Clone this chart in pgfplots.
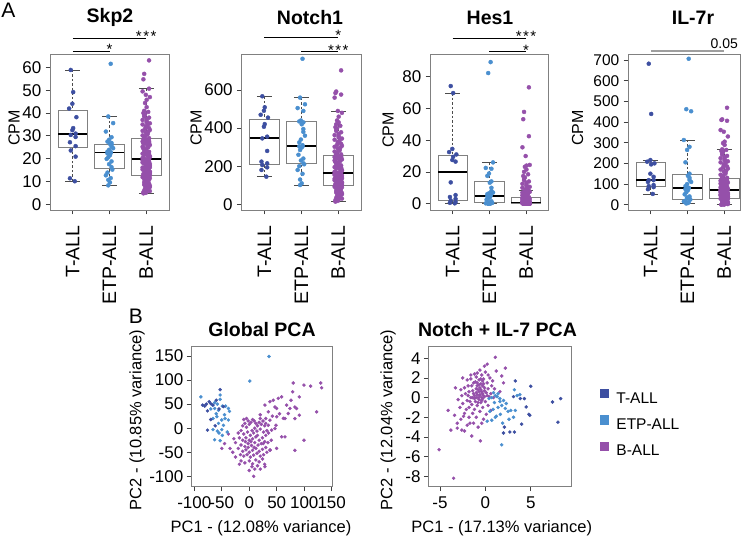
\documentclass[border=0pt]{standalone}
\usepackage{fontspec}
\setmainfont{Liberation Sans}
\usepackage{pgfplots}
\pgfplotsset{compat=1.18}
\usepackage{pgfplotstable}
\usepgfplotslibrary{statistics}
\definecolor{cT}{HTML}{3D4FA1}
\definecolor{cE}{HTML}{4A8FCF}
\definecolor{cB}{HTML}{9550AA}
\definecolor{frame}{HTML}{808080}
\newcommand{\fs}[1]{\fontsize{#1}{#1}\selectfont}

\pgfplotstableread{
d s n h r
1 4.8 14 0 0
4 5.0 18 0 0
1 5.3 22 0 1
5 5.5 26 0 2
9 5.8 30 0 3
2 6.0 34 0 4
6 6.3 38 0 5
5 6.6 41 0 6
3 6.9 44 0 7
5 7.1 47 0 8
8 7.4 50 0 9
9 7.6 53 0 10
7 7.9 56 0 11
9 8.1 58 0 12
3 8.3 60 0 13
2 8.6 62 0.02 14
3 8.8 64 0.04 15
8 9.0 66 0.06 16
4 9.2 68 0.08 17
6 9.5 70 0.1 18
2 9.7 72 0.11 19
6 9.9 74 0.12 20
4 10.1 76 0.13 21
3 10.3 78 0.14 22
3 10.5 80 0.15 23
8 10.7 82 0.16 24
3 10.9 84 0.17 25
2 11.1 86 0.18 26
7 11.3 88 0.19 27
9 11.5 90 0.2 28
5 11.7 91 0.21 28.5
0 11.9 92 0.22 29
2 12.0 94 0.24 29.5
8 12.2 95 0.25 30
8 12.4 97 0.27 30.5
4 12.5 98 0.28 31
1 12.7 100 0.3 32
9 12.9 102 0.32 33
7 13.1 104 0.34 34
1 13.3 106 0.35 35
6 13.5 108 0.37 36
9 13.7 110 0.38 37
3 13.9 112 0.4 38
9 14.1 114 0.41 39
9 14.3 116 0.43 40
3 14.5 118 0.44 41
7 14.7 120 0.46 42
5 14.9 122 0.47 43
1 15.1 124 0.49 44
0 15.3 126 0.5 45
5 15.5 128 0.52 46
8 15.7 130 0.53 47
2 15.9 132 0.55 48
0 16.1 134 0.56 49
9 16.3 136 0.58 50
7 16.5 138 0.59 51
4 16.7 140 0.61 52
9 16.9 142 0.62 53
4 17.1 144 0.64 54
4 17.3 146 0.65 55
5 17.5 148 0.67 56
9 17.7 150 0.68 57
2 17.9 151 0.7 58
3 18.1 153 0.71 59
0 18.3 154 0.73 60
7 18.5 156 0.74 61
8 18.7 157 0.76 62
1 18.9 158 0.77 63
6 19.0 159 0.79 64
4 19.2 160 0.8 65
0 19.3 161 0.82 66
6 19.5 162 0.84 67
2 19.6 163 0.86 67.5
8 19.8 165 0.88 68
6 19.9 166 0.9 69
2 20.1 168 0.95 70.5
0 20.3 171 1.0 72
8 20.5 174 1.05 73.5
9 20.8 177 1.1 75
9 21.0 180 1.15 76.5
8 21.2 183 1.2 78
6 21.5 186 1.25 79.5
2 21.7 189 1.3 81
8 22.0 192 1.4 82.5
0 22.2 195 1.5 84
3 22.5 198 1.6 85.5
4 22.7 201 1.7 87
8 23.0 204 1.8 88.5
2 23.2 207 1.9 90
5 23.5 210 2.0 91.5
3 23.7 213 2.1 93
4 24.0 216 2.2 94.5
2 24.2 219 2.3 96
1 24.5 222 2.4 97.5
1 24.7 225 2.5 99
7 25.0 228 2.6 100.5
0 25.2 230 2.7 102
6 25.5 232 2.8 103.5
7 25.7 234 2.9 105
9 26.0 236 3.0 106.5
8 26.2 238 3.1 108
2 26.5 240 3.2 109.5
1 26.7 242 3.3 111
4 27.0 244 3.4 112.5
8 27.2 246 3.5 114
0 27.5 248 3.55 116
8 27.7 249 3.6 118
6 28.0 251 3.65 120
5 28.2 252 3.7 122
1 28.4 254 3.72 123
3 28.6 255 3.76 124.5
2 28.7 257 3.8 126
8 29.0 262 4.1 130
2 29.4 267 4.5 135
3 29.8 272 4.9 140
0 30.2 277 5.3 145
6 30.6 282 5.7 150
6 31.0 287 6.0 155
4 31.4 292 6.3 160
7 31.8 297 6.6 165
0 32.2 302 7.0 170
9 32.6 307 7.4 175
3 33.0 312 7.8 180
8 33.4 317 8.1 185
4 33.8 322 8.4 190
4 34.2 327 9.0 195
6 34.6 333 9.5 200
0 35.0 339 10.0 205
9 35.5 345 10.6 210
5 36.0 351 11.2 215
5 36.5 357 11.8 220
0 37.0 363 12.5 225
5 37.5 370 13.2 230
8 38.0 378 14.0 236
2 38.5 385 14.8 242
2 39.0 392 15.6 248
3 39.5 398 16.5 254
1 40.0 405 17.4 260
7 40.5 412 18.5 265
2 41.0 420 20.0 268
5 42.6 430 21.5 289
3 44.4 440 23.2 298
5 45.8 460 24.0 305
9 47.0 480 24.4 330
4 48.0 490 30.0 353
0 49.5 560 35.5 361
8 50.7 576 42.5 406
1 54.8 584 53.2 410
2 57.2 592 57.8 413
8 63.1 703 73.3 469
}\tabB

\pgfplotstableread{
d s n h r
7 10.1 145 0.2 52
1 11.4 180 0.5 75
8 20.9 194 1.0 85
2 23.6 206 2.0 90
8 25.5 215 3.0 95
1 27.2 224 4.2 110
8 29.5 280 5.4 119
2 30.4 346 13.4 119
8 31.0 355 26.5 135
4 32.5 407 27.5 150
5 33.4 421 29.5 195
9 38.2 455 31.0 200
0 42.0 470 32.5 208
4 44.1 491 34.5 216
5 49.2 509 69.7 439
2 58.9 567 74.1 682
}\tabT

\pgfplotstableread{
d s n h r
3 8.3 101 0 6
5 9.6 110 0 8
3 10.7 130 0 10
6 11.5 160 0.1 12
0 12.7 180 0.2 15
2 13.9 200 0.3 20
8 15.2 210 0.5 25
7 16.3 215 0.6 30
4 17.6 230 1.0 35
7 18.8 240 1.5 40
1 19.9 260 2.5 50
3 20.6 285 3.5 60
5 21.5 298 4.0 70
2 22.3 304 4.5 75
6 22.5 304 5.0 80
6 22.9 310 5.5 82
2 23.1 325 6.0 90
4 23.9 340 6.5 100
9 24.6 360 7.0 110
7 25.3 380 8.0 120
7 26.1 395 10.0 130
5 26.5 420 13.2 140
7 26.9 430 14.0 150
2 27.5 435 17.5 205
4 28.3 440 19.0 265
7 29.4 490 22.0 280
0 31.9 505 22.5 313
9 35.6 525 26.0 452
3 38.5 560 82.3 462
6 61.6 764 89.2 706
}\tabE

\pgfplotsset{
  rstyle/.style={
    scale only axis, anchor=south west, clip=false,
    axis line style={draw=frame, line width=0.9bp},
    tick align=outside, major tick length=4.5bp,
    tick style={black!75, line width=0.8bp},
    xtick pos=left, ytick pos=left,
    /pgf/number format/assume math mode=true,
    scaled ticks=false,
    tick label style={font=\fs{17bp}, inner sep=0pt},
  },
  topax/.style={rstyle, height=156bp, xmin=-0.62,
    xtick={0,1,2}, xticklabels={T-ALL,ETP-ALL,B-ALL},
    xticklabel style={rotate=90, anchor=east, font=\fs{19.5bp}},
    xticklabel shift=11bp, yticklabel shift=4bp},
  pcaax/.style={rstyle, height=140.7bp, xticklabel shift=5.5bp, yticklabel shift=3bp},
  ptT/.style={only marks, mark=*, mark size=2.0bp, color=cT, mark options={draw=cT, fill=cT, line width=0.4bp}},
  ptE/.style={only marks, mark=*, mark size=2.0bp, color=cE, mark options={draw=cE, fill=cE, line width=0.4bp}},
  ptB/.style={only marks, mark=*, mark size=2.0bp, color=cB, mark options={draw=cB, fill=cB, line width=0.4bp}},
  pcT/.style={only marks, mark=*, mark size=1.55bp, color=cT, mark options={draw=cT, fill=cT, line width=0.4bp}},
  pcE/.style={only marks, mark=*, mark size=1.55bp, color=cE, mark options={draw=cE, fill=cE, line width=0.4bp}},
  pcB/.style={only marks, mark=*, mark size=1.55bp, color=cB, mark options={draw=cB, fill=cB, line width=0.4bp}},
  rbox/.style={
    draw=frame, line width=0.8bp, solid, mark=none,
    boxplot/draw direction=y,
    boxplot/box extend=0.8,
    boxplot/whisker extend=0.4,
    boxplot/every median/.style={draw=black, line width=1.9bp},
    boxplot/draw/lower whisker/.code={%
      \draw[black!70, line width=0.8bp, dash pattern=on 2.5bp off 2bp]
        (boxplot box cs:\pgfplotsboxplotvalue{lower whisker},0.5) --
        (boxplot box cs:\pgfplotsboxplotvalue{lower quartile},0.5);
      \draw[black!70, line width=0.8bp]
        (boxplot whisker cs:\pgfplotsboxplotvalue{lower whisker},0) --
        (boxplot whisker cs:\pgfplotsboxplotvalue{lower whisker},1);
    },
    boxplot/draw/upper whisker/.code={%
      \draw[black!70, line width=0.8bp, dash pattern=on 2.5bp off 2bp]
        (boxplot box cs:\pgfplotsboxplotvalue{upper whisker},0.5) --
        (boxplot box cs:\pgfplotsboxplotvalue{upper quartile},0.5);
      \draw[black!70, line width=0.8bp]
        (boxplot whisker cs:\pgfplotsboxplotvalue{upper whisker},0) --
        (boxplot whisker cs:\pgfplotsboxplotvalue{upper whisker},1);
    },
  },
}
\newcommand{\jit}[1]{#1+0.022*(\thisrow{d}-4.5)}
\newcommand{\bx}[6]{\addplot[rbox, boxplot prepared={draw position=#1, lower whisker=#2, lower quartile=#3, median=#4, upper quartile=#5, upper whisker=#6}] coordinates {};}
\newcommand{\stars}{*\kern1.5bp*\kern1.5bp*}

\begin{document}
\begin{tikzpicture}
\path[use as bounding box] (0bp,0bp) rectangle (748bp,538bp);

% ---------- Skp2
\begin{axis}[topax, at={(50bp,328bp)}, width=119bp, xmax=2.62, ymin=-2.5, ymax=65.9, ytick={0,10,...,60}]
\addplot[ptT] table[x expr={\jit{0}}, y=s] {\tabT};
\addplot[ptE] table[x expr={\jit{1}}, y=s] {\tabE};
\addplot[ptB] table[x expr={\jit{2}}, y=s] {\tabB};
\bx{0}{10.1}{25.0}{30.7}{41.0}{58.9}
\bx{1}{8.3}{15.7}{22.7}{26.4}{38.5}
\bx{2}{4.8}{12.7}{19.9}{28.7}{50.7}
\draw[black, line width=0.8bp] (axis cs:0,72.9) -- (axis cs:2,72.9);
\draw[black, line width=0.8bp] (axis cs:0,67.0) -- (axis cs:1,67.0);
\node[anchor=base, inner sep=0pt, font=\fs{15bp}] at ([yshift=-3.5bp]axis cs:2,72.9) {\stars};
\node[anchor=base, inner sep=0pt, font=\fs{15bp}] at ([yshift=-3.5bp]axis cs:1,67.0) {*};
\end{axis}

% ---------- Notch1
\begin{axis}[topax, at={(241.4bp,328bp)}, width=119.8bp, xmax=2.62, ymin=-30, ymax=789, ytick={0,200,400,600}]
\addplot[ptT] table[x expr={\jit{0}}, y=n] {\tabT};
\addplot[ptE] table[x expr={\jit{1}}, y=n] {\tabE};
\addplot[ptB] table[x expr={\jit{2}}, y=n] {\tabB};
\bx{0}{145}{211.6}{348}{446}{566.7}
\bx{1}{101}{215}{304}{435.5}{560}
\bx{2}{14}{100}{166}{257}{490}
\draw[black, line width=0.8bp] (axis cs:0,876.6) -- (axis cs:2,876.6);
\draw[black, line width=0.8bp] (axis cs:1,801) -- (axis cs:2,801);
\node[anchor=base, inner sep=0pt, font=\fs{15bp}] at ([yshift=-3.5bp]axis cs:2,876.6) {*};
\node[anchor=base, inner sep=0pt, font=\fs{15bp}] at ([yshift=-3.5bp]axis cs:2,801) {\stars};
\end{axis}

% ---------- Hes1
\begin{axis}[topax, at={(430bp,328bp)}, width=118.8bp, xmax=2.62, ymin=-4, ymax=94.3, ytick={0,20,...,80}]
\addplot[ptT] table[x expr={\jit{0}}, y=h] {\tabT};
\addplot[ptE] table[x expr={\jit{1}}, y=h] {\tabE};
\addplot[ptB] table[x expr={\jit{2}}, y=h] {\tabB};
\bx{0}{0.2}{2.1}{19.7}{30.7}{69.7}
\bx{1}{0}{0.6}{5.0}{13.9}{26.0}
\bx{2}{0}{0.3}{0.7}{3.8}{8.4}
\draw[black, line width=0.8bp] (axis cs:0,104.2) -- (axis cs:2,104.2);
\draw[black, line width=0.8bp] (axis cs:1,95.7) -- (axis cs:2,95.7);
\node[anchor=base, inner sep=0pt, font=\fs{15bp}] at ([yshift=-3.5bp]axis cs:2,104.2) {\stars};
\node[anchor=base, inner sep=0pt, font=\fs{15bp}] at ([yshift=-3.5bp]axis cs:2,95.7) {*};
\end{axis}

% ---------- IL-7r
\begin{axis}[topax, at={(628bp,328bp)}, width=112bp, xmax=2.43, ymin=-25.6, ymax=729, ytick={0,100,...,700}, yticklabel style={font=\fs{15.5bp}}]
\addplot[ptT] table[x expr={\jit{0}}, y=r] {\tabT};
\addplot[ptE] table[x expr={\jit{1}}, y=r] {\tabE};
\addplot[ptB] table[x expr={\jit{2}}, y=r] {\tabB};
\bx{0}{50}{87}{119}{203}{216}
\bx{1}{6}{26}{81}{147}{313}
\bx{2}{0}{32}{69}{126}{268}
\draw[black!38, line width=2bp] (axis cs:0,745) -- (axis cs:2,745);
\node[anchor=south, inner sep=0pt, font=\fs{14bp}] at ([yshift=1.5bp]axis cs:2,745) {0.05};
\end{axis}

% ---------- Global PCA
\begin{axis}[pcaax, at={(191bp,51.3bp)}, width=141.7bp, xmin=-106, xmax=151.8, ymin=-121.6, ymax=170.8,
  xtick={-100,-50,...,150}, ytick={-100,-50,...,150}]
\addplot[pcB] coordinates {
(-10,18)(-5,20)(-2,15)(-8,10)(-12,5)(-5,2)(0,8)(3,12)(6,18)(9,15)
(12,10)(15,5)(18,12)(20,20)(22,8)(25,15)(28,5)(30,10)(10,0)(5,-5)
(-15,-5)(-20,-10)(-10,-12)(-3,-8)(2,-15)(8,-10)(14,-6)(20,-2)(26,-8)(32,-5)
(-18,-20)(-12,-25)(-6,-20)(0,-25)(6,-22)(12,-18)(18,-25)(24,-20)(30,-15)(35,-10)
(-15,-35)(-8,-38)(-2,-32)(4,-36)(10,-30)(16,-35)(22,-32)(28,-28)(34,-30)(40,-25)
(-12,-48)(-6,-45)(0,-50)(6,-46)(12,-42)(18,-48)(24,-44)(30,-40)(-20,-42)(-25,-30)
(-10,-58)(-4,-55)(2,-60)(8,-56)(14,-52)(20,-58)(26,-55)(32,-50)(38,-45)(-16,-55)
(-15,-68)(-8,-72)(0,-68)(6,-74)(12,-66)(18,-70)(24,-64)(5,-80)(10,-85)(15,-78)
(-18,-75)(0,-88)(8,-100)(20,-85)(28,-75)(-2,-40)(3,-28)(-7,-28)(9,-40)(15,-15)
(-45,-32)(-35,-42)(-50,-42)(-28,-22)(-38,-12)(-30,-50)(-25,-60)
(37.6,55)(43.7,58)(46.7,44)(49.8,41)(52.8,62)(58.9,65)(65,20)(71,30.5)(74,41)(75.9,58)
(79,75.6)(80,94)(83,44)(83,20)(86,41)(91,27)(91,65)(99.5,-25)(99.5,89.5)(111.7,87.4)
(122.6,34)(130,94)(131.7,84)(83,-46)(59,-18)(65,-18)(46.7,-0.7)(48.6,6)(34.6,6)(37.6,16.7)
(40.7,-4)(28.5,48)(34.6,34)(25.5,-32)(37.6,-46)(49.8,-42)(28.5,-80)(42,25)(55,30)(20,28)
(30,20)(62,20.5)(68,48)(50,23.9)
};
\addplot[pcE] coordinates {
(-88,65)(-67,48)(-63,53)(-58,50)(-53,69)(-53,60)(-49,46)(-43,46)(-38,41)(-36,35)
(-70,40)(-63,41)(-56,37)(-66,20)(-59,24)(-50,17)(-44,20)(-38,17)(-66,-3)(-58,-6)
(-50,-3)(-47,6)(-56,10)(-63,-24)(-53,-26)(-49,-15)(1,98)(36,149)(-60,30)(-45,28)
(-40,-8)(-55,-10)
};
\addplot[pcT] coordinates {
(-81,46)(-78,50)(-73,55)(-70,51)(-76,36)(-76,-4)(-66,48)(-53,80)(-60,58)(-62,5)
(-85,48)(-70,18)(-47,45)(-55,40)
};
\end{axis}

% ---------- Notch + IL-7 PCA
\begin{axis}[pcaax, at={(428.3bp,51.3bp)}, width=142.7bp, xmin=-6.29, xmax=9.44, ymin=-9.06, ymax=5.25,
  xtick={-5,0,5}, ytick={-8,-6,...,4},
  legend style={at={(axis description cs:1.2032,0.695)}, anchor=north west, draw=none, fill=none,
    inner sep=0pt, outer sep=0pt, font=\fs{15.5bp}, row sep=10.5bp, column sep=7.7bp, nodes={inner sep=0pt}},
  legend cell align=left]
\addplot[pcB, forget plot] coordinates {
(-1.0,0.5)(-0.8,0.8)(-0.6,0.3)(-0.4,0.6)(-0.2,0.2)(-1.2,0.2)(-1.4,0.7)(-0.9,1.2)(-0.5,1.4)(-0.1,1.0)
(0.1,0.5)(0.3,0.9)(-0.3,-0.1)(-0.7,-0.2)(-1.1,-0.4)(-1.6,0.0)(-1.8,0.6)(-1.3,1.5)(-0.7,1.8)(-0.2,1.9)
(0.2,1.5)(0.4,0.1)(-0.5,-0.5)(-0.9,-0.8)(-1.5,-0.7)(-2.0,-0.3)(-2.2,0.4)(-1.9,1.2)(-1.0,2.1)(-0.4,2.3)
(0.0,2.6)(-0.6,2.8)(0.5,2.0)(0.7,1.2)(0.6,0.4)(0.0,-0.4)(-0.3,-1.0)(-1.2,-1.2)(-1.8,-1.0)(-2.5,-0.6)
(-2.6,0.2)(-2.3,1.0)(-1.6,1.9)(-1.2,2.4)(-0.8,0.0)(-0.6,1.0)(-0.3,0.4)(-1.0,0.9)(-0.8,-0.5)(-0.4,0.0)
(-1.3,0.4)(-0.5,0.8)(-0.2,1.4)(-0.9,0.3)(-1.1,1.6)(-0.1,0.7)(-0.7,0.6)(-1.5,1.2)(0.2,0.2)(-0.3,1.7)
(-1.7,-0.4)(-2.1,-1.2)(-1.4,-1.6)(-0.6,-1.4)(0.3,-0.8)(0.9,0.0)(1.0,0.9)(0.8,1.7)(0.3,2.3)(-0.9,2.5)
(-1.6,2.3)(-2.0,1.8)(-2.7,0.8)(-3.0,-0.2)(-2.8,-1.0)(-2.3,-1.6)(-1.8,-2.0)(-1.0,-2.0)(-0.2,-2.2)(0.6,-1.3)
(1.1,4.1)(0.2,3.4)(2.2,3.0)(1.2,2.7)(-0.1,3.2)(-4.1,-1.3)(-3.8,-3.3)(-3.1,-3.1)(-2.6,-3.3)(-2.3,-3.4)
(-1.5,-3.9)(-0.55,-4.4)(-3.1,-2.6)(-5.1,-5.3)(-3.5,-8.2)(-2.7,-2.2)(-3.4,-1.8)(-2.0,-2.8)(-1.3,-2.6)(-0.4,-2.6)
(2.0,1.5)(1.6,0.6)(1.8,2.2)(-2.5,2.0)(-3.3,1.0)(-1.7,-2.6)(-2.4,-1.9)(-0.8,-3.0)(0.1,-1.7)(-1.9,0.2)
(-1.2,-0.1)(-0.6,0.2)(-0.3,1.2)(-0.9,1.5)(-0.5,1.9)(-1.4,0.0)(-0.1,0.1)(-0.7,1.3)(-1.0,0.0)(-0.4,-0.3)
};
\addplot[pcE, forget plot] coordinates {
(0.4,-0.1)(0.7,0.0)(1.1,0.2)(1.4,0.4)(1.6,-0.1)(1.8,-0.8)(2.2,-1.1)(2.5,-1.4)(0.5,-1.4)(0.85,-1.2)
(0.2,-2.4)(0.7,-2.3)(1.2,-1.9)(1.65,-1.7)(1.9,-2.6)(2.8,-1.3)(3.5,0.2)(3.8,0.3)(3.3,-1.3)(1.8,-4.8)
(1.3,0.1)(1.0,-0.5)(1.6,-0.4)(0.9,0.5)(2.0,-0.3)(1.4,-1.0)(2.6,-2.2)(1.1,-2.0)(3.1,-2.0)(2.3,-0.6)
(3.2,0.8)
};
\addplot[pcT, forget plot] coordinates {
(3.3,1.7)(5.0,1.15)(3.1,0.1)(3.85,-0.1)(4.3,-0.1)(4.5,-0.95)(4.8,-1.7)(4.9,-1.8)(4.0,-2.7)(2.7,-3.5)
(2.0,-3.6)(7.4,-0.45)(8.3,-0.1)(8.0,-2.5)(2.1,-3.0)(3.2,-3.5)
};
\addlegendimage{legend image code/.code={\fill[cT] (0bp,1.25bp) rectangle (8.3bp,9.55bp);}}
\addlegendentry{T-ALL}
\addlegendimage{legend image code/.code={\fill[cE] (0bp,1.25bp) rectangle (8.3bp,9.55bp);}}
\addlegendentry{ETP-ALL}
\addlegendimage{legend image code/.code={\fill[cB] (0bp,1.25bp) rectangle (8.3bp,9.55bp);}}
\addlegendentry{B-ALL}
\end{axis}

% ---------- texts
\node[font=\fs{21bp}] at (8.5bp,528bp) {A};
\node[font=\fs{21bp}] at (136bp,222bp) {B};
\node[font=\fs{19.5bp}\bfseries] at (110bp,520.5bp) {Skp2};
\node[font=\fs{19.5bp}\bfseries] at (310bp,520.5bp) {Notch1};
\node[font=\fs{19.5bp}\bfseries] at (490bp,520.5bp) {Hes1};
\node[font=\fs{19.5bp}\bfseries] at (693bp,520.5bp) {IL-7r};
\node[font=\fs{16bp}, rotate=90] at (14bp,410bp) {CPM};
\node[font=\fs{16bp}, rotate=90] at (196bp,410bp) {CPM};
\node[font=\fs{16bp}, rotate=90] at (388bp,408bp) {CPM};
\node[font=\fs{16bp}, rotate=90] at (577.5bp,410bp) {CPM};
\node[font=\fs{19.5bp}\bfseries] at (262bp,208bp) {Global PCA};
\node[font=\fs{19.5bp}\bfseries] at (497.5bp,208bp) {Notch + IL-7 PCA};
\node[font=\fs{16.5bp}] at (261bp,10bp) {PC1 - (12.08\% variance)};
\node[font=\fs{16.5bp}] at (501.7bp,10bp) {PC1 - (17.13\% variance)};
\node[font=\fs{16.5bp}, rotate=90] at (137bp,118bp) {PC2 - (10.85\% variance)};
\node[font=\fs{16.5bp}, rotate=90] at (388bp,118bp) {PC2 - (12.04\% variance)};
\end{tikzpicture}
\end{document}
